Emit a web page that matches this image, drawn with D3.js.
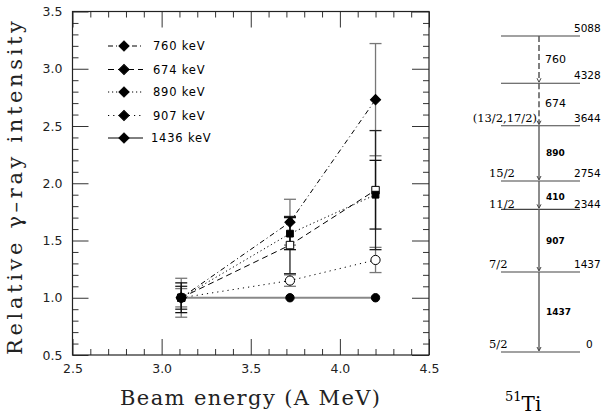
<!DOCTYPE html>
<html lang="en">
<head>
<meta charset="UTF-8" />
<title>51Ti relative intensities</title>
<script src="https://d3js.org/d3.v7.min.js"></script>
<style>
  body { margin: 0; background: #fff; }
  .tick text { font-family: "DejaVu Sans", sans-serif; font-size: 12.5px; fill: #222; }
  .axis .domain { stroke: none; }
  .axis line { stroke: #333; }
  .title { font-family: "DejaVu Serif", serif; font-size: 21px; fill: #222; }
</style>
</head>
<body>
<svg id="chart" width="602" height="417"></svg>
<script>
// ---- data ----
const beamEnergies = [3.11, 3.72, 4.20];
const seriesNames = ["760 keV", "674 keV", "890 keV", "907 keV", "1436 keV"];
const values760 = [1.00, 1.66, 2.73];
const values674 = [1.00, 1.46, 1.94];
const values890 = [1.00, 1.56, 1.90];
const values907 = [1.00, 1.15, 1.33];
const values1436 = [1.00, 1.00, 1.00];
const errors760 = [0.17, 0.20, 0.49];
const errors674 = [0.10, 0.25, 0.52];
const errors890 = [0.13, 0.14, 0.30];
const errors907 = [0.08, 0.05, 0.11];
const errors1436 = [0, 0, 0];

const xTicks = [2.5, 3.0, 3.5, 4.0, 4.5];
const yTicks = [0.5, 1.0, 1.5, 2.0, 2.5, 3.0, 3.5];

// level scheme of 51Ti
const levelEnergies = [5088, 4328, 3644, 2754, 2344, 1437, 0];
const levelSpins = ["", "", "(13/2,17/2)", "15/2", "11/2", "7/2", "5/2"];
const transFrom = [5088, 4328, 3644, 2754, 2344, 1437];
const transTo = [4328, 3644, 2754, 2344, 1437, 0];
const transLabels = ["760", "674", "890", "410", "907", "1437"];
const transDashed = [true, true, false, false, false, false];

{
const svg = d3.select("#chart");
const mLeft = 72.5, mRight = 429, mTop = 11.5, mBottom = 355;

const xScale = d3.scaleLinear().domain([2.5, 4.5]).range([mLeft, mRight]);
const yScale = d3.scaleLinear().domain([0.5, 3.5]).range([mBottom, mTop]);

// ---- axes (ticks point inward on all four sides) ----
const xMinor = d3.range(25, 46).map(d => d / 10).filter(d => !xTicks.includes(d));
const yMinor = d3.range(5, 36).map(d => d / 10).filter(d => !yTicks.includes(d));

svg.append("g").attr("class", "axis")
  .attr("transform", `translate(0,${mBottom})`)
  .call(d3.axisBottom(xScale).tickValues(xTicks).tickSize(-16).tickPadding(9)
    .tickFormat(d3.format(".1f")));
svg.append("g").attr("class", "axis")
  .attr("transform", `translate(0,${mBottom})`)
  .call(d3.axisBottom(xScale).tickValues(xMinor).tickSize(-6).tickFormat(""));
svg.append("g").attr("class", "axis")
  .attr("transform", `translate(0,${mTop})`)
  .call(d3.axisTop(xScale).tickValues(xTicks).tickSize(-16).tickFormat(""));
svg.append("g").attr("class", "axis")
  .attr("transform", `translate(0,${mTop})`)
  .call(d3.axisTop(xScale).tickValues(xMinor).tickSize(-6).tickFormat(""));

svg.append("g").attr("class", "axis")
  .attr("transform", `translate(${mLeft},0)`)
  .call(d3.axisLeft(yScale).tickValues(yTicks).tickSize(-16).tickPadding(10)
    .tickFormat(d3.format(".1f")));
svg.append("g").attr("class", "axis")
  .attr("transform", `translate(${mLeft},0)`)
  .call(d3.axisLeft(yScale).tickValues(yMinor).tickSize(-6).tickFormat(""));
svg.append("g").attr("class", "axis")
  .attr("transform", `translate(${mRight},0)`)
  .call(d3.axisRight(yScale).tickValues(yTicks).tickSize(-17).tickFormat(""));
svg.append("g").attr("class", "axis")
  .attr("transform", `translate(${mRight},0)`)
  .call(d3.axisRight(yScale).tickValues(yMinor).tickSize(-6).tickFormat(""));

svg.append("rect")
  .attr("x", mLeft).attr("y", mTop)
  .attr("width", mRight - mLeft).attr("height", mBottom - mTop)
  .attr("fill", "none").attr("stroke", "#222").attr("stroke-width", 1.2);

svg.append("text").attr("class", "title")
  .attr("x", 250).attr("y", 405)
  .attr("text-anchor", "middle")
  .attr("textLength", 260).attr("lengthAdjust", "spacing")
  .text("Beam energy (A MeV)");

svg.append("text").attr("class", "title")
  .attr("transform", "translate(22,188) rotate(-90)")
  .attr("text-anchor", "middle")
  .attr("textLength", 334).attr("lengthAdjust", "spacing")
  .text("Relative \u03b3\u2013ray intensity");

// ---- series ----
const series = [
  { name: seriesNames[0], vals: values760, errs: errors760, dash: "5 3 1 3", sym: "diamond", fill: "#000", bar: "#777" },
  { name: seriesNames[1], vals: values674, errs: errors674, dash: "6 4", sym: "square", fill: "#fff", bar: "#222" },
  { name: seriesNames[2], vals: values890, errs: errors890, dash: "1.2 2.8", sym: "square", fill: "#000", bar: "#111" },
  { name: seriesNames[3], vals: values907, errs: errors907, dash: "1.2 4", sym: "circle", fill: "#fff", bar: "#777" },
  { name: seriesNames[4], vals: values1436, errs: errors1436, dash: null, sym: "circle", fill: "#000", bar: "#777" }
];

const line = d3.line().x((d, i) => xScale(beamEnergies[i])).y(d => yScale(d));

// error bars
const barOrder = [0, 3, 1, 2];
barOrder.forEach(si => {
  const s = series[si];
  const g = svg.append("g");
  s.vals.forEach((v, i) => {
    const e = s.errs[i];
    if (!e) return;
    const cx = xScale(beamEnergies[i]);
    g.append("line").attr("x1", cx).attr("x2", cx)
      .attr("y1", yScale(v + e)).attr("y2", yScale(v - e))
      .attr("stroke", s.bar).attr("stroke-width", 1.3);
    [v + e, v - e].forEach(c => {
      g.append("line").attr("x1", cx - 6).attr("x2", cx + 6)
        .attr("y1", yScale(c)).attr("y2", yScale(c))
        .attr("stroke", s.bar).attr("stroke-width", 1.3);
    });
  });
});

// connecting lines
series.forEach((s, si) => {
  svg.append("path").datum(s.vals)
    .attr("d", line)
    .attr("fill", "none")
    .attr("stroke", si === 4 ? "#888" : "#000")
    .attr("stroke-width", si === 4 ? 2 : 1)
    .attr("stroke-dasharray", s.dash);
});

function drawSymbol(g, type, fill, cx, cy) {
  if (type === "diamond") {
    g.append("path").attr("d", d3.symbol(d3.symbolSquare, 52)())
      .attr("transform", `translate(${cx},${cy}) rotate(45)`)
      .attr("fill", fill).attr("stroke", "#000").attr("stroke-width", 1);
  } else if (type === "square") {
    g.append("path").attr("d", d3.symbol(d3.symbolSquare, fill === "#fff" ? 56 : 46)())
      .attr("transform", `translate(${cx},${cy})`)
      .attr("fill", fill).attr("stroke", "#000").attr("stroke-width", 1);
  } else {
    g.append("circle").attr("cx", cx).attr("cy", cy)
      .attr("r", fill === "#fff" ? 4.6 : 4.2)
      .attr("fill", fill).attr("stroke", "#000").attr("stroke-width", 1);
  }
}

const markers = svg.append("g");
[4, 3, 1, 2, 0].forEach(si => {
  const s = series[si];
  s.vals.forEach((v, i) => drawSymbol(markers, s.sym, s.fill, xScale(beamEnergies[i]), yScale(v)));
});

// legend
const legendY = [46, 69.5, 92, 115.5, 138];
const legend = svg.append("g");
series.forEach((s, i) => {
  legend.append("line")
    .attr("x1", 108).attr("x2", 143).attr("y1", legendY[i]).attr("y2", legendY[i])
    .attr("stroke", "#000").attr("stroke-width", 1)
    .attr("stroke-dasharray", s.dash);
  drawSymbol(legend, "diamond", "#000", 124, legendY[i]);
  legend.append("text")
    .attr("x", i === 4 ? 151 : 153).attr("y", legendY[i] + 4)
    .style("font-family", "'DejaVu Sans', sans-serif").style("font-size", "11.5px")
    .attr("letter-spacing", "0.8")
    .text(s.name);
});

// ---- level scheme ----
const levelY = d3.scaleLinear().domain([0, 1437, 2754, 5088]).range([352, 272, 181, 36]);
const scheme = svg.append("g");
const lineX = 539;

levelEnergies.forEach((E, i) => {
  const y = levelY(E);
  scheme.append("line").attr("x1", 501).attr("x2", 580).attr("y1", y).attr("y2", y)
    .attr("stroke", "#444").attr("stroke-width", 1.1);
  scheme.append("text")
    .attr("x", E === 0 ? 586 : 574).attr("y", y - (E === 2344 ? 1 : 4))
    .style("font-family", "'DejaVu Sans', sans-serif").style("font-size", "10.5px")
    .text(E);
  if (levelSpins[i]) {
    const long = levelSpins[i].length > 5;
    scheme.append("text")
      .attr("x", long ? 537 : 489).attr("y", y - (E === 2344 ? 1 : 4))
      .attr("text-anchor", long ? "end" : "start")
      .style("font-family", "'DejaVu Serif', serif").style("font-size", "11.5px")
      .text(levelSpins[i]);
  }
});

transFrom.forEach((E, i) => {
  const y1 = levelY(E), y2 = levelY(transTo[i]);
  scheme.append("line").attr("x1", lineX).attr("x2", lineX).attr("y1", y1).attr("y2", y2 - 2)
    .attr("stroke", transDashed[i] ? "#555" : "#666")
    .attr("stroke-width", 1.5)
    .attr("stroke-dasharray", transDashed[i] ? "6 3" : null);
  scheme.append("path")
    .attr("d", `M${lineX - 2},${y2 - 5} L${lineX},${y2 - 1} L${lineX + 2},${y2 - 5}`)
    .attr("fill", "none").attr("stroke", "#444").attr("stroke-width", 1);
  scheme.append("text")
    .attr("x", transDashed[i] ? 545 : 546)
    .attr("y", (y1 + y2) / 2 + (transLabels[i] === "410" ? 5 : 3))
    .style("font-family", "'DejaVu Sans', sans-serif")
    .style("font-size", transDashed[i] ? "11px" : "9px")
    .style("font-weight", transDashed[i] ? "normal" : "bold")
    .text(transLabels[i]);
});

const nucl = scheme.append("text").attr("x", 505).attr("y", 411)
  .style("font-family", "'DejaVu Serif', serif");
nucl.append("tspan").attr("dy", -10).style("font-size", "13px").text("51");
nucl.append("tspan").attr("dy", 10).style("font-size", "20px").text("Ti");
}
</script>
</body>
</html>
